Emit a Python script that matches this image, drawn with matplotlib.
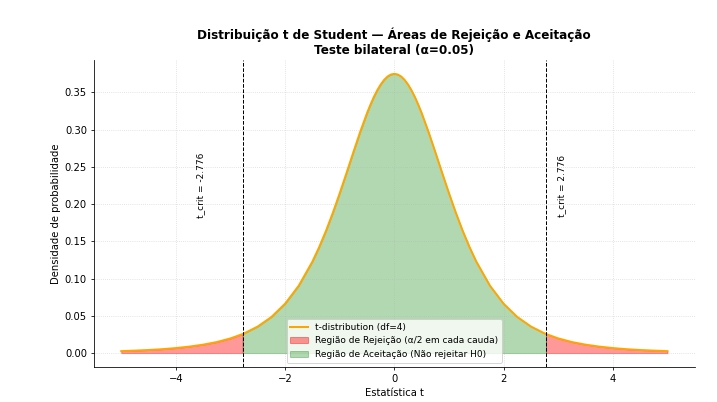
import numpy as np
import matplotlib.pyplot as plt

# Valores (densidade t de Student, df=4)
t_vals = [-5.0, -4.75, -4.5, -4.25, -4.0, -3.75, -3.5, -3.25, -3.0, -2.776, -2.75,
          -2.5, -2.25, -2.0, -1.75, -1.5, -1.375, -1.25, -1.125, -1.0, -0.875, -0.75,
          -0.625, -0.5, -0.4375, -0.375, -0.3125, -0.25, -0.1875, -0.125, -0.0625, 0.0,
          0.0625, 0.125, 0.1875, 0.25, 0.3125, 0.375, 0.4375, 0.5, 0.625,
          0.75, 0.875, 1.0, 1.125, 1.25, 1.375, 1.5, 1.75, 2.0, 2.25, 2.5, 2.75,
          2.776, 3.0, 3.25, 3.5, 3.75, 4.0, 4.25, 4.5, 4.75, 5.0]
dens = [0.0026, 0.0033, 0.0041, 0.0052, 0.0067, 0.0087, 0.0113, 0.0148, 0.0197, 0.0256, 0.0264,
        0.0357, 0.0485, 0.0663, 0.0905, 0.1229, 0.1425, 0.1644, 0.1886, 0.2147, 0.2420, 0.2699,
        0.2971, 0.3223, 0.3336, 0.3440, 0.3531, 0.3607, 0.3669, 0.3714, 0.3741, 0.3750,
        0.3741, 0.3714, 0.3669, 0.3607, 0.3531, 0.3440, 0.3336, 0.3223, 0.2971,
        0.2699, 0.2420, 0.2147, 0.1886, 0.1644, 0.1425, 0.1229, 0.0905, 0.0663, 0.0485, 0.0357, 0.0264,
        0.0256, 0.0197, 0.0148, 0.0113, 0.0087, 0.0067, 0.0052, 0.0041, 0.0033, 0.0026]
t_crit = 2.776
df = 4

x = np.array(t_vals)
y = np.array(dens)

fig, ax = plt.subplots(figsize=(10, 5.607), dpi=71.7)
fig.subplots_adjust(left=0.131, right=0.969, bottom=0.087, top=0.851)

ax.plot(x, y, color='orange', lw=2, label=f't-distribution (df={df})')

left = x <= -t_crit
right = x >= t_crit
mid = (x >= -t_crit) & (x <= t_crit)
ax.fill_between(x[left], 0, y[left], color='red', alpha=0.4,
                label='Região de Rejeição (α/2 em cada cauda)')
ax.fill_between(x[right], 0, y[right], color='red', alpha=0.4)
ax.fill_between(x[mid], 0, y[mid], color='green', alpha=0.3,
                label='Região de Aceitação (Não rejeitar H0)')

ax.axvline(-t_crit, color='black', linestyle='--', lw=1)
ax.axvline(t_crit, color='black', linestyle='--', lw=1)
ax.text(-t_crit - 0.85, max(dens) * 0.6, f't_crit = {-t_crit:.3f}', rotation=90,
        va='center', fontsize=9)
ax.text(t_crit + 0.2, max(dens) * 0.6, f't_crit = {t_crit:.3f}', rotation=90,
        va='center', fontsize=9)

ax.set_title('Distribuição t de Student — Áreas de Rejeição e Aceitação\nTeste bilateral (α=0.05)',
             fontsize=12, fontweight='bold')
ax.set_xlabel('Estatística t')
ax.set_ylabel('Densidade de probabilidade')
ax.legend(loc='lower center', fontsize=9)
ax.grid(True, linestyle=':', alpha=0.5)
ax.spines['top'].set_visible(False)
ax.spines['right'].set_visible(False)

fig.savefig('out.png', dpi=71.7)
